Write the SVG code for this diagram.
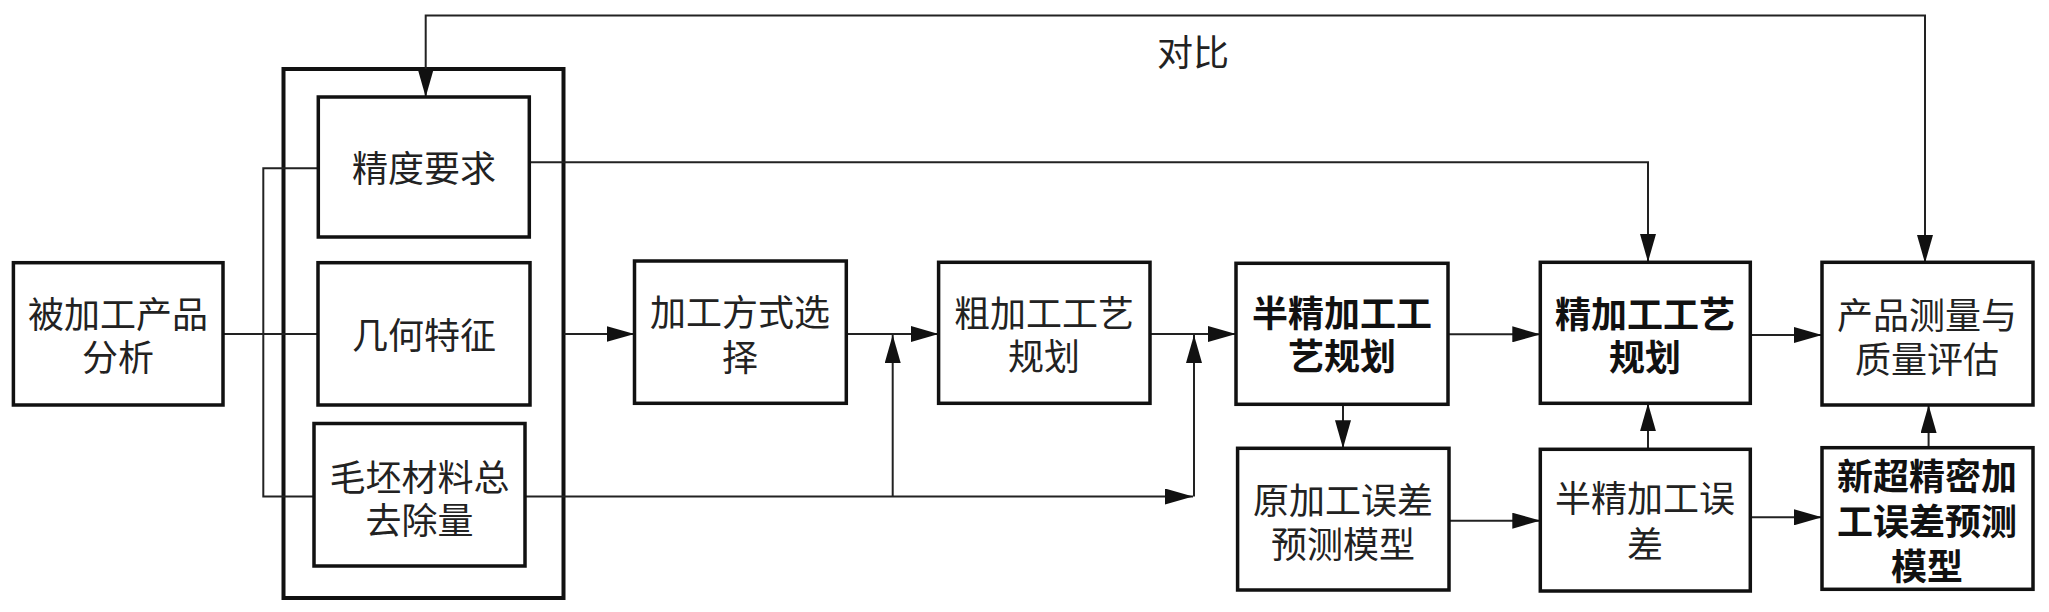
<svg xmlns="http://www.w3.org/2000/svg" width="2049" height="612" viewBox="0 0 2049 612">
<style>
.box{fill:#fff;stroke:#111;stroke-width:3.5}
.outer{fill:none;stroke:#111;stroke-width:4}
.c{fill:none;stroke:#222;stroke-width:2}
.t{font-family:"Liberation Sans","Noto Sans CJK SC",sans-serif;font-size:36px;fill:#222;text-anchor:middle;dominant-baseline:central}
.b{font-weight:bold;fill:#111}
</style>
<defs>
<marker id="ah" markerUnits="userSpaceOnUse" markerWidth="28" markerHeight="16" viewBox="0 0 28 16" refX="28" refY="8" orient="auto">
<path d="M0,0 L28,8 L0,16 z" fill="#111"/>
</marker>
</defs>
<rect x="0" y="0" width="2049" height="612" fill="#fff"/>
<g id="group-outer"><rect class="outer" x="283.5" y="69" width="280" height="529"/></g>
<g id="connectors">
<path class="c" d="M1100,15.5 L425.7,15.5 L425.7,97" marker-end="url(#ah)"/>
<path class="c" d="M1100,15.5 L1925,15.5 L1925,263" marker-end="url(#ah)"/>
<path class="c" d="M530,162.3 L1648,162.3 L1648,262" marker-end="url(#ah)"/>
<path class="c" d="M223,334 L318,334"/>
<path class="c" d="M318,168.3 L263.3,168.3 L263.3,496.5 L314,496.5"/>
<path class="c" d="M564,334 L634.5,334" marker-end="url(#ah)"/>
<path class="c" d="M846,334 L938.6,334" marker-end="url(#ah)"/>
<path class="c" d="M525,496.5 L1193,496.5" marker-end="url(#ah)"/>
<path class="c" d="M892.7,496.5 L892.7,335" marker-end="url(#ah)"/>
<path class="c" d="M1194,496.5 L1194,335" marker-end="url(#ah)"/>
<path class="c" d="M1150,334 L1236,334" marker-end="url(#ah)"/>
<path class="c" d="M1343,404.3 L1343,448.3" marker-end="url(#ah)"/>
<path class="c" d="M1448,334.3 L1540.3,334.3" marker-end="url(#ah)"/>
<path class="c" d="M1750,335 L1822,335" marker-end="url(#ah)"/>
<path class="c" d="M1449,520.7 L1540.3,520.7" marker-end="url(#ah)"/>
<path class="c" d="M1750,517.3 L1822,517.3" marker-end="url(#ah)"/>
<path class="c" d="M1648,449.3 L1648,403.3" marker-end="url(#ah)"/>
<path class="c" d="M1928.6,447.7 L1928.6,405" marker-end="url(#ah)"/>
</g>
<text class="t" x="1193" y="53">对比</text>
<g id="n-beijiagong"><rect class="box" x="13.4" y="262.7" width="209.6" height="142.3"/><text class="t" x="118" y="315">被加工产品</text><text class="t" x="118" y="358">分析</text></g>
<g id="n-jingdu"><rect class="box" x="318.3" y="97" width="211" height="140"/><text class="t" x="424" y="169">精度要求</text></g>
<g id="n-jihe"><rect class="box" x="318" y="262.7" width="212" height="142.3"/><text class="t" x="424" y="336">几何特征</text></g>
<g id="n-maopi"><rect class="box" x="314" y="423.5" width="211" height="142.5"/><text class="t" x="419.5" y="478">毛坯材料总</text><text class="t" x="419.5" y="521">去除量</text></g>
<g id="n-fangshi"><rect class="box" x="634.5" y="261" width="211.8" height="142.3"/><text class="t" x="740" y="313">加工方式选</text><text class="t" x="740" y="358">择</text></g>
<g id="n-cujiagong"><rect class="box" x="938.6" y="262.3" width="211.4" height="141"/><text class="t" x="1044" y="314">粗加工工艺</text><text class="t" x="1044" y="357">规划</text></g>
<g id="n-banjing"><rect class="box" x="1236" y="263.3" width="212" height="141"/><text class="t b" x="1342" y="314">半精加工工</text><text class="t b" x="1342" y="357">艺规划</text></g>
<g id="n-yuanjiagong"><rect class="box" x="1237.6" y="448.3" width="211.4" height="141.7"/><text class="t" x="1343" y="501">原加工误差</text><text class="t" x="1343" y="545">预测模型</text></g>
<g id="n-jingjiagong"><rect class="box" x="1540.3" y="262.3" width="210" height="141"/><text class="t b" x="1645" y="315">精加工工艺</text><text class="t b" x="1645" y="358">规划</text></g>
<g id="n-banjingwucha"><rect class="box" x="1540.3" y="449.3" width="210" height="141.7"/><text class="t" x="1645" y="499">半精加工误</text><text class="t" x="1645" y="545">差</text></g>
<g id="n-chanpin"><rect class="box" x="1822" y="262.3" width="211" height="142.7"/><text class="t" x="1927" y="316">产品测量与</text><text class="t" x="1927" y="360">质量评估</text></g>
<g id="n-xinchao"><rect class="box" x="1822" y="447.7" width="211" height="141.6"/><text class="t b" x="1927" y="477">新超精密加</text><text class="t b" x="1927" y="522">工误差预测</text><text class="t b" x="1927" y="567">模型</text></g>
</svg>
